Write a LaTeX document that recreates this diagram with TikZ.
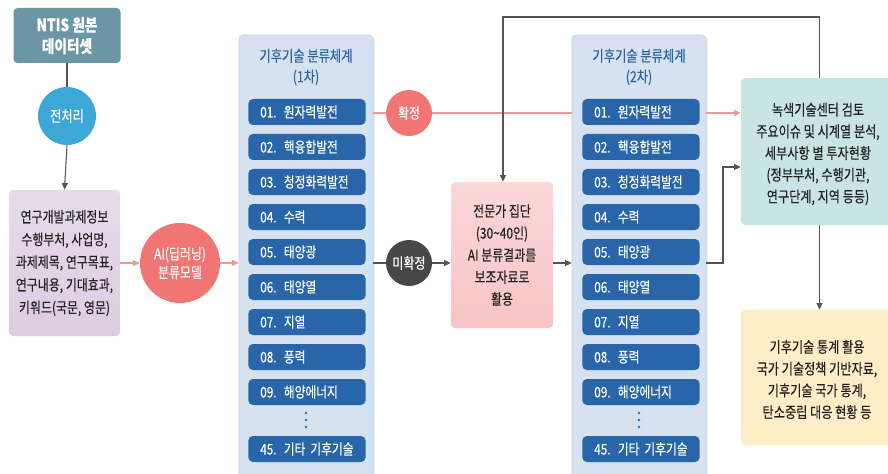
\documentclass[tikz,border=0pt]{standalone}
\usepackage{fontspec}
\setmainfont{Noto Sans CJK KR}[FakeStretch=0.8, FakeBold=0.25]
\usetikzlibrary{arrows.meta,shadows}
\definecolor{ntisc}{HTML}{6C95A6}
\definecolor{prepc}{HTML}{3DA8D5}
\definecolor{purplec}{HTML}{E7DBEA}
\definecolor{purpled}{HTML}{DDCCE0}
\definecolor{aic}{HTML}{F07673}
\definecolor{panelc}{HTML}{D6E2F0}
\definecolor{paneld}{HTML}{C3D2E4}
\definecolor{itemc}{HTML}{2966A9}
\definecolor{titlec}{HTML}{2B64A6}
\definecolor{unc}{HTML}{474747}
\definecolor{expc}{HTML}{FBD7D7}
\definecolor{expd}{HTML}{F8C4C6}
\definecolor{greenc}{HTML}{C8E4E4}
\definecolor{yellowc}{HTML}{FEEDC6}
\definecolor{pinkl}{HTML}{F29595}
\definecolor{grayl}{HTML}{555555}
\definecolor{txt}{HTML}{222222}
\begin{document}
\begin{tikzpicture}[x=0.75pt,y=-0.75pt,
  box/.style={rounded corners=3pt, align=center, text=txt, inner sep=0pt, font=\fontsize{11.2}{17}\selectfont},
  circ/.style={circle, inner sep=0pt, align=center, text=white, font=\fontsize{11.2}{14}\selectfont},
  item/.style={fill=itemc, rounded corners=3.5pt, minimum width=87.75pt, minimum height=19.5pt,
    text width=70pt, inner xsep=9pt, inner ysep=0pt, align=left, text=white,
    font=\fontsize{11}{12}\selectfont, anchor=west},
  panel/.style={fill=panelc, draw=paneld, line width=0.4pt, rounded corners=3pt, minimum width=100.5pt,
    minimum height=341.25pt, inner sep=0pt,
    drop shadow={opacity=0.18, shadow xshift=1.2pt, shadow yshift=-1pt}},
  ptitle/.style={align=center, text=titlec, font=\fontsize{11.5}{15.5}\selectfont},
  pinkline/.style={draw=pinkl, line width=0.8pt},
  grayline/.style={draw=grayl, line width=0.8pt},
  tip/.style={-{Triangle[length=5pt,width=4.5pt]}}
]
\useasboundingbox (0,0) rectangle (888,474);
\clip (0,0) rectangle (888,474);
\fill[white] (0,0) rectangle (888,474);

% left column
\node[box, fill=ntisc, text=white, minimum width=80.25pt, minimum height=41.25pt,
  font=\fontsize{12.8}{16}\selectfont\bfseries] (ntis) at (67,35.5) {NTIS 원본\\데이터셋};
\node[circ, fill=prepc, minimum size=43.5pt, font=\fontsize{11.5}{12}\selectfont] (prep) at (67,116) {전처리};
\node[box, top color=purplec, bottom color=purpled, minimum width=83.25pt, minimum height=109.5pt] (info) at (64.5,263)
  {연구개발과제정보\\수행부처, 사업명,\\과제제목, 연구목표,\\연구내용, 기대효과,\\키워드(국문, 영문)};
\node[circ, fill=aic, minimum size=60pt] (ai) at (180,263) {AI(딥러닝)\\분류모델};

% panels
\node[panel] (p1) at (306,262.5) {};
\node[panel] (p2) at (639,262.5) {};
\node[ptitle] (t1) at (306,67) {기후기술 분류체계\\(1차)};
\node[ptitle] (t2) at (639,67) {기후기술 분류체계\\(2차)};
\foreach \y/\t [count=\k] in {112/01. 원자력발전, 147/02. 핵융합발전, 182/03. 청정화력발전, 217/04. 수력,
  252/05. 태양광, 287/06. 태양열, 322/07. 지열, 357/08. 풍력, 392/09. 해양에너지, 449/45. 기타 기후기술} {
  \node[item] (a\k) at (248,\y) {\t};
  \node[item] (b\k) at (582,\y) {\t};
}
\foreach \dy in {-7,0,7} {
  \fill[itemc] (306,{420+\dy}) circle (1.1pt);
  \fill[itemc] (639,{420+\dy}) circle (1.1pt);
}

% middle
\node[circ, fill=aic, minimum size=34.5pt] (conf) at (409,113) {확정};
\node[circ, fill=unc, minimum size=34.5pt] (unconf) at (409,263) {미확정};
\node[box, top color=expc, bottom color=expd, minimum width=76.5pt, minimum height=109.5pt,
  font=\fontsize{11.2}{16.5}\selectfont] (exp) at (502,255)
  {전문가 집단\\(30\textasciitilde40인)\\AI 분류결과를\\보조자료로\\활용};

% right
\node[box, fill=greenc, minimum width=117.75pt, minimum height=110.25pt] (green) at (819.5,151.5) {};
\node[align=center, text=txt, font=\fontsize{11.4}{16.3}\selectfont, inner sep=0pt] (gtext) at (818,154)
  {녹색기술센터 검토\\주요이슈 및 시계열 분석,\\세부사항 별 투자현황\\(정부부처, 수행기관,\\연구단계, 지역 등등)};
\node[box, fill=yellowc, minimum width=117.75pt, minimum height=101.25pt] (yellow) at (819.5,377.5) {};
\node[align=center, text=txt, font=\fontsize{11.4}{16.3}\selectfont, inner sep=0pt] (ytext) at (817,379.5)
  {기후기술 통계 활용\\국가 기술정책 기반자료,\\기후기술 국가 통계,\\탄소중립 대응 현황 등};

% connectors
\draw[grayline] (ntis.south) -- (prep.north);
\draw[grayline, tip] (prep.south) -- (info.north);
\draw[pinkline, tip] (info.east) -- (ai.west);
\draw[pinkline, tip] (ai.east) -- (ai.east -| p1.west);
\draw[pinkline] (p1.east |- conf.center) -- (conf.west);
\draw[pinkline] (conf.east) -- (p2.west |- conf.center);
\draw[pinkline, tip] (p2.east |- conf.center) -- (green.west |- conf.center);
\draw[grayline] (p1.east |- unconf.center) -- (unconf.west);
\draw[grayline, tip] (unconf.east) -- (exp.west |- unconf.center);
\draw[grayline, tip] (exp.east |- unconf.center) -- (p2.west |- unconf.center);
\coordinate (bend) at (723,167);
\draw[grayline, tip] (p2.east |- unconf.center) -| (bend) -- (green.west |- bend);
\coordinate (topl) at (503,17);
\coordinate (topr) at (819.5,17);
\draw[grayline, tip] (green.north) -- (topr) -- (topl) -- (topl |- exp.north);
\draw[grayline, tip] (green.south) -- (yellow.north);
\end{tikzpicture}
\end{document}
